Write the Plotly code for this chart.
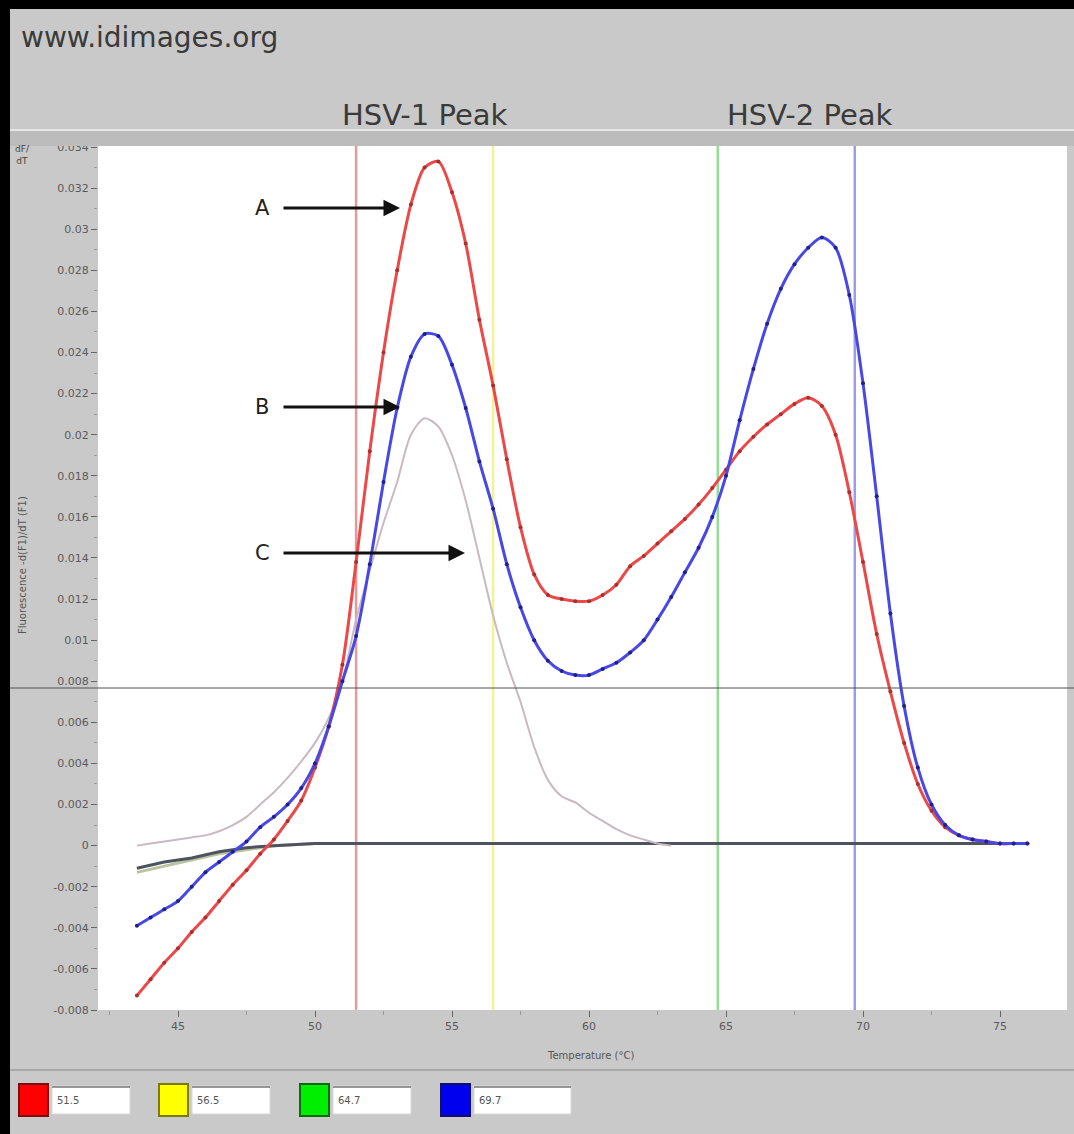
import plotly.graph_objects as go

# ---------------- data ----------------
temps = [43.5, 44.0, 44.5, 45.0, 45.5, 46.0, 46.5, 47.0, 47.5, 48.0,
         48.5, 49.0, 49.5, 50.0, 50.5, 51.0, 51.5, 52.0, 52.5, 53.0,
         53.5, 54.0, 54.5, 55.0, 55.5, 56.0, 56.5, 57.0, 57.5, 58.0,
         58.5, 59.0, 59.5, 60.0, 60.5, 61.0, 61.5, 62.0, 62.5, 63.0,
         63.5, 64.0, 64.5, 65.0, 65.5, 66.0, 66.5, 67.0, 67.5, 68.0,
         68.5, 69.0, 69.5, 70.0, 70.5, 71.0, 71.5, 72.0, 72.5, 73.0,
         73.5, 74.0, 74.5, 75.0, 75.5, 76.0]

curve_a = [-0.0073, -0.0065, -0.0057, -0.0050, -0.0042, -0.0035, -0.0027, -0.0019, -0.0012, -0.0004,
           0.0003, 0.0012, 0.0022, 0.0038, 0.0058, 0.0088, 0.0138, 0.0192, 0.0240, 0.0280,
           0.0312, 0.0330, 0.0333, 0.0318, 0.0293, 0.0256, 0.0224, 0.0188, 0.0155, 0.0132,
           0.0122, 0.0120, 0.0119, 0.0119, 0.0122, 0.0127, 0.0136, 0.0141, 0.0147, 0.0153,
           0.0159, 0.0166, 0.0174, 0.0183, 0.0192, 0.0199, 0.0205, 0.0210, 0.0215, 0.0218,
           0.0214, 0.0200, 0.0172, 0.0138, 0.0103, 0.0075, 0.0050, 0.0030, 0.0017, 0.0009,
           0.0005, 0.0003, 0.0002, 0.0001, 0.0001, 0.0001]

curve_b = [-0.0039, -0.0035, -0.0031, -0.0027, -0.0020, -0.0013, -0.0008, -0.0003, 0.0002, 0.0009,
           0.0014, 0.0020, 0.0028, 0.0040, 0.0058, 0.0080, 0.0102, 0.0137, 0.0177, 0.0213,
           0.0238, 0.0249, 0.0248, 0.0234, 0.0213, 0.0187, 0.0164, 0.0137, 0.0116, 0.0100,
           0.0090, 0.0085, 0.0083, 0.0083, 0.0086, 0.0089, 0.0094, 0.0100, 0.0110, 0.0121,
           0.0133, 0.0145, 0.0160, 0.0180, 0.0207, 0.0232, 0.0254, 0.0271, 0.0283, 0.0291,
           0.0296, 0.0291, 0.0268, 0.0225, 0.0170, 0.0113, 0.0068, 0.0038, 0.0020, 0.0010,
           0.0005, 0.0003, 0.0002, 0.0001, 0.0001, 0.0001]

temps_c = temps[:40]
curve_c = [0.0000, 0.0001, 0.0002, 0.0003, 0.0004, 0.0005, 0.0007, 0.0010, 0.0014, 0.0020,
           0.0026, 0.0033, 0.0041, 0.0050, 0.0062, 0.0080, 0.0110, 0.0134, 0.0157, 0.0177,
           0.0200, 0.0208, 0.0204, 0.0190, 0.0168, 0.0140, 0.0112, 0.0089, 0.0070, 0.0048,
           0.0032, 0.0024, 0.0021, 0.0016, 0.0012, 0.0008, 0.0005, 0.0003, 0.0001, 0.0000]

temps_ntc = [43.5, 44.5, 45.5, 46.5, 47.5, 48.5, 50.0, 55.0, 60.0, 65.0, 70.0, 75.0, 76.0]
ntc_1 = [-0.0011, -0.0008, -0.0006, -0.0003, -0.0001, 0.0000, 0.0001, 0.0001, 0.0001, 0.0001, 0.0001, 0.0001, 0.0001]
ntc_2 = [-0.0013, -0.0010, -0.0007, -0.0004, -0.0002, 0.0000, 0.0001, 0.0001, 0.0001, 0.0001, 0.0001, 0.0001, 0.0001]

peak_temps = [51.5, 56.5, 64.7, 69.7]
peak_labels = ["51.5", "56.5", "64.7", "69.7"]
peak_line_colors = ["#e49a9a", "#f2f29a", "#96dc96", "#9c9ce8"]
swatch_fill = ["#ff0000", "#ffff00", "#00ee00", "#0000ee"]
swatch_edge = ["#7a1010", "#7a7a10", "#106a10", "#10106a"]

x_ticks = [45, 50, 55, 60, 65, 70, 75]
y_ticks = [0.034, 0.032, 0.03, 0.028, 0.026, 0.024, 0.022, 0.02, 0.018, 0.016, 0.014,
           0.012, 0.01, 0.008, 0.006, 0.004, 0.002, 0, -0.002, -0.004, -0.006, -0.008]
y_tick_text = ["0.034", "0.032", "0.03", "0.028", "0.026", "0.024", "0.022", "0.02", "0.018",
               "0.016", "0.014", "0.012", "0.01", "0.008", "0.006", "0.004", "0.002", "0",
               "-0.002", "-0.004", "-0.006", "-0.008"]

y_range = [-0.008, 0.0341]

# ---------------- layout geometry ----------------
W, H = 1074, 1134
L, R, T, B = 98, 7, 145, 124
PW, PH = W - L - R, H - T - B


def px(xp):
    return (xp - L) / PW


def py(yp):
    return (H - B - yp) / PH


def tx(p):
    return 45 + (p - 178) / 27.4


def vy(p):
    return y_range[0] + (H - B - p) / PH * (y_range[1] - y_range[0])


fig = go.Figure()

fig.add_trace(go.Scatter(x=temps_ntc, y=ntc_2, mode="lines",
                         line=dict(color="#b9c4a0", width=3), hoverinfo="skip"))
fig.add_trace(go.Scatter(x=temps_ntc, y=ntc_1, mode="lines",
                         line=dict(color="#4e5360", width=3), hoverinfo="skip"))
fig.add_trace(go.Scatter(x=temps_c, y=curve_c, mode="lines",
                         line=dict(color="#c9b9c2", width=2, shape="spline", smoothing=0.8),
                         name="C"))
fig.add_trace(go.Scatter(x=temps, y=curve_a, mode="lines+markers",
                         line=dict(color="#ec4848", width=3, shape="spline", smoothing=0.8),
                         marker=dict(color="#a83030", size=4), name="A"))
fig.add_trace(go.Scatter(x=temps, y=curve_b, mode="lines+markers",
                         line=dict(color="#4848e6", width=3, shape="spline", smoothing=0.8),
                         marker=dict(color="#20208a", size=4), name="B"))

shapes = []
for t, c in zip(peak_temps, peak_line_colors):
    shapes.append(dict(type="line", xref="x", yref="paper", x0=t, x1=t, y0=0, y1=1,
                       line=dict(color=c, width=2.5), layer="below"))
shapes.append(dict(type="line", xref="paper", yref="paper", x0=px(10), x1=px(W),
                   y0=py(688), y1=py(688), line=dict(color="#505050", width=1)))
shapes.append(dict(type="rect", xref="paper", yref="paper", x0=px(10), x1=px(W),
                   y0=py(146), y1=py(130), fillcolor="#bcbcbc", line=dict(width=0)))
shapes.append(dict(type="line", xref="paper", yref="paper", x0=px(10), x1=px(W),
                   y0=py(130), y1=py(130), line=dict(color="#e6e6e6", width=2)))
shapes.append(dict(type="line", xref="paper", yref="paper", x0=px(10), x1=px(W),
                   y0=py(1070), y1=py(1070), line=dict(color="#a8a8a8", width=2)))
shapes.append(dict(type="rect", xref="paper", yref="paper", x0=px(0), x1=px(10),
                   y0=py(H), y1=py(0), fillcolor="black", line=dict(width=0)))
shapes.append(dict(type="rect", xref="paper", yref="paper", x0=px(0), x1=px(W),
                   y0=py(9), y1=py(0), fillcolor="black", line=dict(width=0)))

annotations = []
sw_left = [19, 159, 300, 441]
box_w = [78, 78, 78, 97]
for i in range(4):
    x0 = sw_left[i]
    shapes.append(dict(type="rect", xref="paper", yref="paper", x0=px(x0), x1=px(x0 + 29),
                       y0=py(1116), y1=py(1084), fillcolor=swatch_fill[i],
                       line=dict(color=swatch_edge[i], width=2)))
    bx = x0 + 33
    shapes.append(dict(type="rect", xref="paper", yref="paper", x0=px(bx), x1=px(bx + box_w[i]),
                       y0=py(1114), y1=py(1086), fillcolor="white",
                       line=dict(color="#d8d8d8", width=1)))
    shapes.append(dict(type="line", xref="paper", yref="paper", x0=px(bx), x1=px(bx + box_w[i]),
                       y0=py(1087), y1=py(1087), line=dict(color="#777777", width=1.5)))
    annotations.append(dict(xref="paper", yref="paper", x=px(bx + 3), y=py(1100),
                            xanchor="left", yanchor="middle", text=peak_labels[i],
                            showarrow=False, font=dict(size=10, color="#555555",
                                                       family="DejaVu Sans")))

annotations.append(dict(xref="paper", yref="paper", x=px(19), y=py(38), xanchor="left",
                        yanchor="middle", text="www.idimages.org", showarrow=False,
                        font=dict(size=28, color="#3a3a3a", family="DejaVu Sans")))
annotations.append(dict(xref="paper", yref="paper", x=px(425), y=py(115), xanchor="center",
                        yanchor="middle", text="HSV-1 Peak", showarrow=False,
                        font=dict(size=29, color="#3a3a3a", family="DejaVu Sans")))
annotations.append(dict(xref="paper", yref="paper", x=px(810), y=py(115), xanchor="center",
                        yanchor="middle", text="HSV-2 Peak", showarrow=False,
                        font=dict(size=29, color="#3a3a3a", family="DejaVu Sans")))
annotations.append(dict(xref="paper", yref="paper", x=px(590), y=py(1055), xanchor="center",
                        yanchor="middle", text="Temperature (°C)", showarrow=False,
                        font=dict(size=10, color="#555555", family="DejaVu Sans")))
annotations.append(dict(xref="paper", yref="paper", x=px(22), y=py(565), xanchor="center",
                        yanchor="middle", text="Fluorescence -d(F1)/dT (F1)", textangle=-90,
                        showarrow=False, font=dict(size=10, color="#555555", family="DejaVu Sans")))
annotations.append(dict(xref="paper", yref="paper", x=px(22), y=py(155), xanchor="center",
                        yanchor="middle", text="dF/<br>dT", showarrow=False,
                        font=dict(size=9, color="#444444", family="DejaVu Sans")))

for label, yp, head in [("A", 208, 400), ("B", 407, 400), ("C", 553, 465)]:
    annotations.append(dict(x=tx(head), y=vy(yp), ax=tx(282), ay=vy(yp), xref="x", yref="y",
                            axref="x", ayref="y", text="", showarrow=True, arrowhead=2,
                            arrowsize=1.1, arrowwidth=3, arrowcolor="#111111"))
    annotations.append(dict(x=tx(262), y=vy(yp), xref="x", yref="y", text=label,
                            showarrow=False, xanchor="center", yanchor="middle",
                            font=dict(size=21, color="#222222", family="DejaVu Sans")))

fig.update_layout(
    width=W, height=H,
    margin=dict(l=L, r=R, t=T, b=B),
    paper_bgcolor="#c9c9c9", plot_bgcolor="white",
    showlegend=False,
    shapes=shapes, annotations=annotations,
    xaxis=dict(range=[tx(L), tx(L + PW)], tickvals=x_ticks, ticks="outside", ticklen=6,
               tickcolor="#666666", tickwidth=1, showgrid=False, zeroline=False, showline=False,
               tickfont=dict(size=11, color="#5a5a5a", family="DejaVu Sans"),
               minor=dict(dtick=2.5, tick0=45, ticks="outside", ticklen=4, tickcolor="#999999")),
    yaxis=dict(range=y_range, tickvals=y_ticks, ticktext=y_tick_text,
               ticks="outside", ticklen=6, tickcolor="#666666", showgrid=False,
               zeroline=False, showline=False,
               tickfont=dict(size=11, color="#5a5a5a", family="DejaVu Sans"),
               minor=dict(dtick=0.001, tick0=0, ticks="outside", ticklen=3, tickcolor="#999999")),
)

fig.write_html("out.html", config={"displayModeBar": False},
               post_script="document.body.style.margin='0px';document.body.style.padding='0px';")
